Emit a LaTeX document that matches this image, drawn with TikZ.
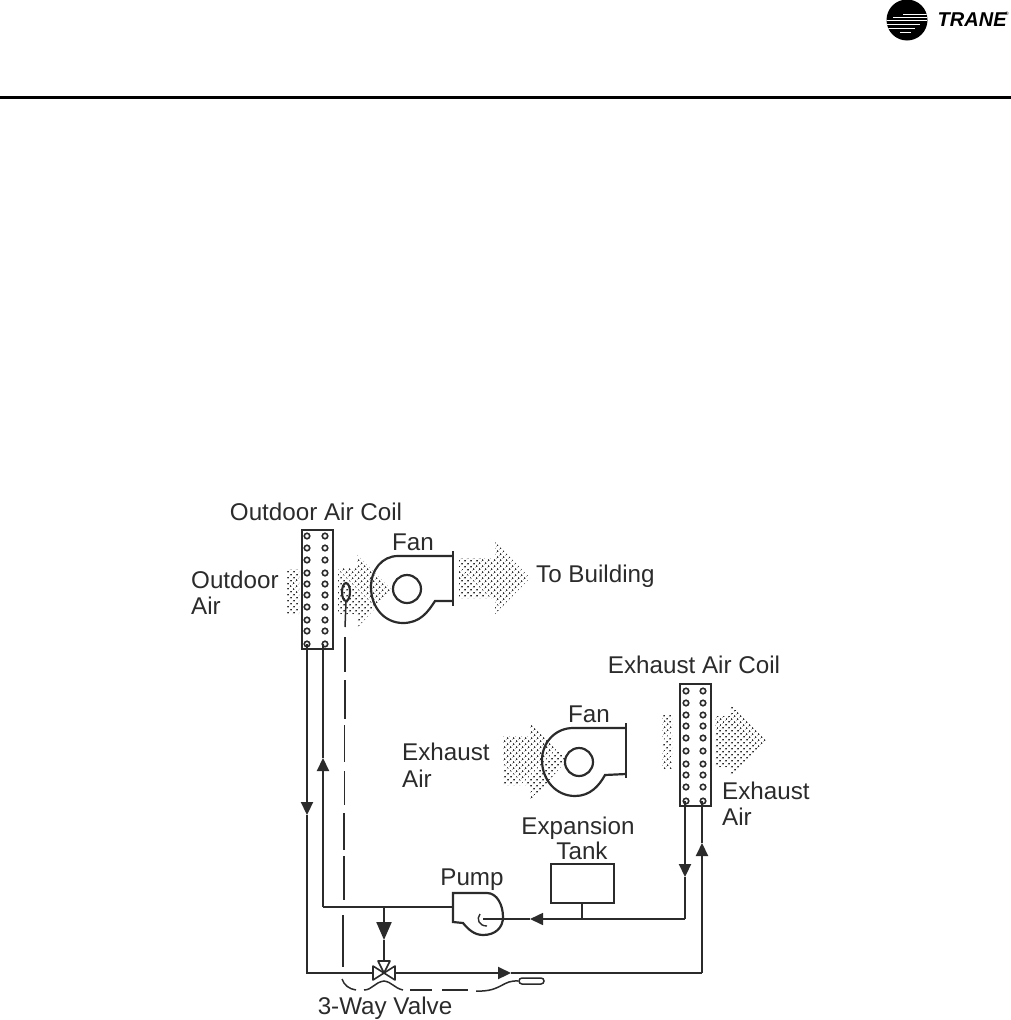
\documentclass[tikz,border=0pt]{standalone}
\usepackage{fontspec}
\setmainfont{Liberation Sans}
\usetikzlibrary{patterns.meta,arrows.meta,shapes.geometric}
\definecolor{ink}{HTML}{2B2B2B}
\tikzset{
  pipe/.style={draw=ink, line width=2.2pt},
  tiparrow/.style={-{Triangle[length=13pt,width=12pt]}},
  stipple/.style={pattern={Dots[distance=4.0pt,radius=1.05pt,angle=45]}, pattern color=ink},
  coilbox/.style={draw=ink, line width=2.1pt, inner sep=0pt, minimum width=31pt},
  coildot/.style={draw=ink, line width=1.6pt, circle, inner sep=0pt, minimum size=5.5pt},
  caption/.style={text=ink, inner sep=0pt, font=\fontsize{24.2}{27}\selectfont},
  capillary/.style={draw=ink, line width=1.5pt}
}
\begin{document}
\begin{tikzpicture}[x=1pt, y=-1pt]
\useasboundingbox (0,0) rectangle (1011,1020);

% header
\coordinate (ruleL) at (0,97);
\coordinate (ruleR) at (1011,97);
\draw[draw=black, line width=3pt] (ruleL) -- (ruleR);
\begin{scope}
\clip (907,20) circle (20.5);
\fill[black] (886,0) rectangle (928,41);
\foreach \yy/\xa/\xb/\wd in {14/903/930/1.0, 17/893/930/1.0, 20.5/885/927/1.2, 24/885/920/1.0, 28/888/915/1.0, 32/900/911/0.9}
  \draw[white, line width=\wd pt] (\xa,\yy) -- (\xb,\yy);
\end{scope}
\node[inner sep=0pt, anchor=west] (brand) at (937.5,20) {\fontsize{20}{22}\selectfont\bfseries\itshape TRANE};
\node[inner sep=0pt, anchor=west, font=\fontsize{5}{6}\selectfont] (brandreg) at (1005,14) {®};

% air streams
\fill[stipple] (287,569) rectangle (299,614);
\fill[stipple] (338,568) -- (357,568) -- (357,554) -- (392,590) -- (357,628) -- (357,614) -- (338,614) -- cycle;
\fill[stipple] (459,558) -- (495,558) -- (495,542) -- (530,578) -- (495,614) -- (495,598) -- (459,598) -- cycle;
\fill[stipple] (503,736) -- (530,736) -- (530,722) -- (567,760) -- (530,802) -- (530,785) -- (503,785) -- cycle;
\fill[stipple] (662,715) rectangle (672,768);
\fill[stipple] (715,716) -- (730,716) -- (730,703) -- (766,740) -- (730,777) -- (730,767) -- (715,767) -- cycle;

% coils
\node[coilbox, minimum height=119pt] (outdoorcoil) at (317.5,589.5) {};
\node[coilbox, minimum height=122pt] (exhaustcoil) at (695.5,745) {};
\foreach \yy [count=\i] in {536,548,560,573,584,595,607,620,631,644} {
  \node[coildot] (oa\i) at (307,\yy) {};
  \node[coildot] (ob\i) at (325,\yy) {};
}
\foreach \yy [count=\i] in {691,703,715,726,738,751,764,775,787,801} {
  \node[coildot] (ea\i) at (686,\yy) {};
  \node[coildot] (eb\i) at (703,\yy) {};
}

% fans
\draw[pipe] (453,551) -- (453,606);
\draw[pipe] (453,556) -- (398,556) .. controls (382,556) and (371,570) .. (371,587)
  .. controls (371,608) and (385,623) .. (403,623) .. controls (420,623) and (428,612) .. (435,601) -- (453,601);
\node[draw=ink, line width=2.2pt, circle, inner sep=0pt, minimum size=28pt] (fanhubA) at (407,589) {};
\draw[pipe] (626,723) -- (626,778);
\draw[pipe] (626,728) -- (573,728) .. controls (555,728) and (542,743) .. (542,760)
  .. controls (542,780) and (556,796) .. (575,796) .. controls (590,796) and (599,786) .. (605,775) -- (626,774);
\node[draw=ink, line width=2.2pt, circle, inner sep=0pt, minimum size=28pt] (fanhubB) at (579,762) {};

% tank and pump
\node[draw=ink, line width=2.1pt, inner sep=0pt, minimum width=63pt, minimum height=39pt] (tank) at (582.5,883.5) {};
\coordinate (pumpin) at (483,919);
\coordinate (pumpout) at (453,907);
\draw[pipe] (453,893) -- (487,893) .. controls (497,893) and (503,905) .. (503,917)
  .. controls (503,928) and (495,935) .. (483,935) .. controls (474,935) and (468,929) .. (463,923) -- (453,922) -- cycle;
\draw[draw=ink, line width=1.4pt] (480,914) .. controls (476,919) and (479,926) .. (487,926);

% 3-way valve
\coordinate (valve) at (384,973);
\draw[pipe, line width=1.6pt, line join=round] (valve) -- (373,966) -- (373,980) -- cycle;
\draw[pipe, line width=1.6pt, line join=round] (valve) -- (395,966) -- (395,980) -- cycle;
\draw[pipe, line width=1.6pt, line join=round] (valve) -- (378,961) -- (390,961) -- cycle;

% piping
\coordinate (oaBot) at (307,644);
\coordinate (obBot) at (323,644);
\coordinate (eaBot) at (685,801);
\coordinate (ebBot) at (702,801);
\coordinate (oaCorner) at (307,973);
\coordinate (obCorner) at (323,907);
\coordinate (teeTop) at (384,907);
\coordinate (ebCorner) at (702,973);
\coordinate (eaCorner) at (685,919);
\coordinate (valveL) at (373,973);
\coordinate (valveR) at (395,973);
\coordinate (valveT) at (384,961);
\coordinate (tankTee) at (582,919);

\draw[pipe, tiparrow] (oaBot) -- (307,815);
\draw[pipe] (307,815) -- (oaCorner) -- (valveL);
\draw[pipe, tiparrow] (obCorner) -- (323,758);
\draw[pipe] (323,758) -- (obBot);
\draw[pipe] (obCorner) -- (pumpout);
\draw[pipe, tiparrow, -{Triangle[length=18pt,width=15pt]}] (teeTop) -- (384,940);
\draw[pipe] (384,940) -- (valveT);
\draw[pipe, tiparrow] (valveR) -- (511,973);
\draw[pipe] (511,973) -- (ebCorner);
\draw[pipe, tiparrow] (ebCorner) -- (702,843);
\draw[pipe] (702,843) -- (ebBot);
\draw[pipe, tiparrow] (eaBot) -- (685,877);
\draw[pipe] (685,877) -- (eaCorner);
\draw[pipe, line width=1.6pt, tiparrow] (eaCorner) -- (530,919);
\draw[pipe, line width=1.6pt] (530,919) -- (pumpin);
\draw[pipe, line width=1.6pt] (tank.south -| tankTee) -- (tankTee);

% control bulbs and capillary
\node[draw=ink, line width=2.1pt, ellipse, inner sep=0pt, minimum width=8pt, minimum height=18pt] (bulbA) at (346,592) {};
\draw[capillary] (bulbA.south) -- (345,627);
\draw[capillary] (345,637) -- (345,672) (345,680) -- (345,719) (344.5,725) -- (344.5,762)
  (344.5,771) -- (344.5,805) (344,813) -- (344,850) (344,856) -- (344,900) (343,915) -- (343,967);
\node[draw=ink, line width=1.5pt, rounded corners=3pt, inner sep=0pt, minimum width=25pt, minimum height=6pt] (bulbB) at (531.5,981) {};
\draw[capillary] (342,979) .. controls (344,985) and (349,989) .. (356,990);
\draw[capillary] (364,990) .. controls (372,990) and (375,982) .. (384,981)
  .. controls (392,982) and (394,988) .. (403,990);
\draw[capillary] (410,990) -- (432,990) (442,990) -- (468,990);
\draw[capillary] (476,991) -- (482,991) .. controls (502,990) and (503,980) .. (bulbB.west);

% labels
\node[caption] (lblOutCoil) at (316,512) {Outdoor Air Coil};
\node[caption] (lblFanA) at (413,542) {Fan};
\node[caption, anchor=west] (lblOutA) at (191,580) {Outdoor};
\node[caption, anchor=west] (lblOutB) at (191,606) {Air};
\node[caption, anchor=west] (lblBuilding) at (536,576) {To Building};
\node[caption] (lblExCoil) at (694,665) {Exhaust Air Coil};
\node[caption] (lblFanB) at (589,714) {Fan};
\node[caption, anchor=west] (lblExA) at (402,752) {Exhaust};
\node[caption, anchor=west] (lblExB) at (402,779) {Air};
\node[caption, anchor=west] (lblExC) at (722,791) {Exhaust};
\node[caption, anchor=west] (lblExD) at (722,817) {Air};
\node[caption] (lblExpA) at (578,828) {Expansion};
\node[caption] (lblExpB) at (582,851) {Tank};
\node[caption] (lblPump) at (472,880) {Pump};
\node[caption] (lblValve) at (385,1008) {3-Way Valve};
\end{tikzpicture}
\end{document}
